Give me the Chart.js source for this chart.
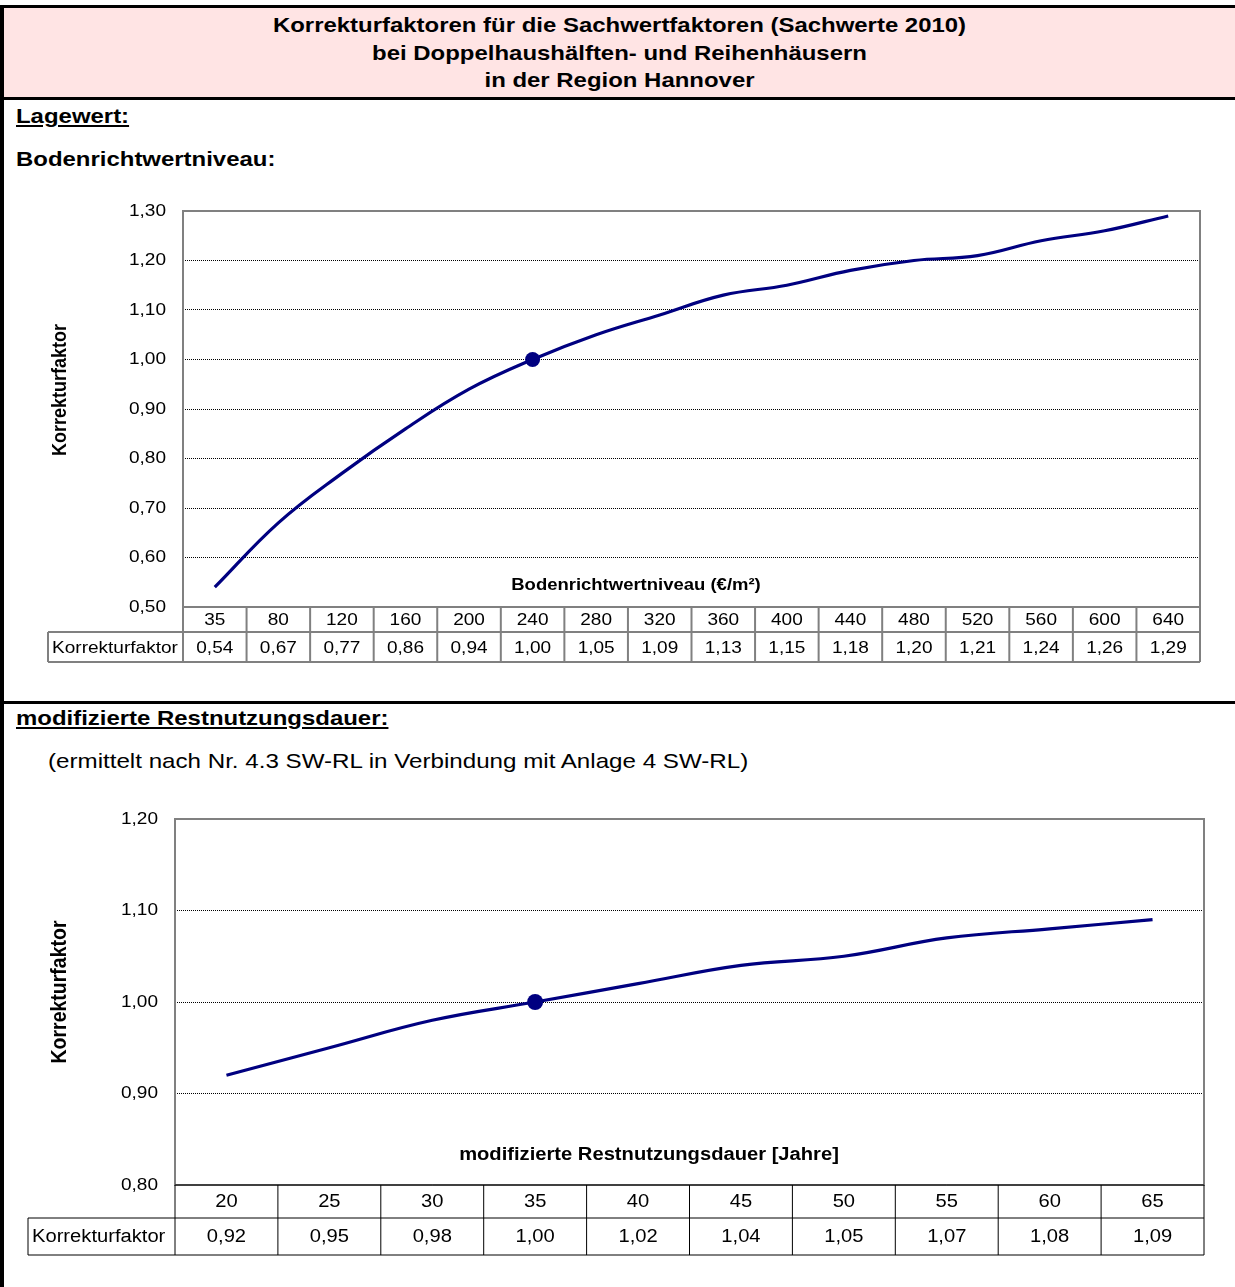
<!DOCTYPE html>
<html>
<head>
<meta charset="utf-8">
<script src="https://cdn.jsdelivr.net/npm/chart.js@4.4.1/dist/chart.umd.min.js"></script>
<style>
    body { margin: 0; width: 1235px; height: 1287px; overflow: hidden; background: #fff; font-family: "Liberation Sans", Arial, sans-serif; color: #000; position: relative; }
    .frame { position: absolute; left: 0; top: 5px; width: 1231px; height: 1282px; border-left: 4px solid #000; border-top: 3px solid #000; }
    .head { position: absolute; left: 4px; top: 8px; width: 1231px; height: 92px; background: #ffe4e4; border-bottom: 3px solid #000; padding-top: 3px; box-sizing: border-box; }
    .head div { text-align: center; font-weight: bold; font-size: 21px; line-height: 27.5px; transform: scaleX(1.14); transform-origin: 50% 0; }
    .sep { position: absolute; left: 4px; top: 701px; width: 1231px; height: 3px; background: #000; }
    .lbl { position: absolute; left: 16px; font-weight: bold; font-size: 21px; white-space: nowrap; transform: scaleX(1.14); transform-origin: 0 0; }
    .u { text-decoration: underline; text-decoration-thickness: 2px; text-underline-offset: 2px; }
    .note { position: absolute; left: 48px; font-size: 21px; white-space: nowrap; transform: scaleX(1.15); transform-origin: 0 0; }
    canvas { position: absolute; left: 0; }
</style>
</head>
<body>
<div class="frame"></div>
<div class="head"><div>Korrekturfaktoren für die Sachwertfaktoren (Sachwerte 2010)<br>bei Doppelhaushälften- und Reihenhäusern<br>in der Region Hannover</div></div>
<div class="lbl u" style="top:104px">Lagewert:</div>
<div class="lbl" style="top:147px">Bodenrichtwertniveau:</div>
<div class="sep"></div>
<div class="lbl u" style="top:706px">modifizierte Restnutzungsdauer:</div>
<div class="note" style="top:749px">(ermittelt nach Nr. 4.3 SW-RL in Verbindung mit Anlage 4 SW-RL)</div>
<canvas id="chart-boden" width="1235" height="500" style="top:181px"></canvas>
<canvas id="chart-rnd" width="1235" height="486" style="top:789px"></canvas>

<script>
// Bodenrichtwertniveau (€/m²)
const bodenLabels = [35, 80, 120, 160, 200, 240, 280, 320, 360, 400, 440, 480, 520, 560, 600, 640];
const bodenFaktor = [0.54, 0.67, 0.77, 0.86, 0.94, 1.00, 1.05, 1.09, 1.13, 1.15, 1.18, 1.20, 1.21, 1.24, 1.26, 1.29];
const bodenTicks = { min: 0.5, max: 1.3, step: 0.1 };

// modifizierte Restnutzungsdauer [Jahre]
const rndLabels = [20, 25, 30, 35, 40, 45, 50, 55, 60, 65];
const rndFaktor = [0.92, 0.95, 0.98, 1.00, 1.02, 1.04, 1.05, 1.07, 1.08, 1.09];
const rndTicks = { min: 0.8, max: 1.2, step: 0.1 };

const rowLabel = 'Korrekturfaktor';
const FONT = '"Liberation Sans", Arial, sans-serif';
const SX = 1.12; // the sheet's text is a bit wider than Arial
const fmt = v => v.toFixed(2).replace('.', ',');

function text(ctx, str, x, y, align) {
    ctx.save();
    ctx.translate(x, y);
    ctx.scale(SX, 1);
    ctx.textAlign = align;
    ctx.fillText(str, 0, 0);
    ctx.restore();
}

// draws frame, tick labels, axis titles and the data table under the plot
const sheetPlugin = {
    id: 'sheet',
    beforeDatasetsDraw(chart, args, o) {
        const { ctx, chartArea: a } = chart;
        ctx.save();
        ctx.strokeStyle = '#808080';
        ctx.lineWidth = 2;
        ctx.strokeRect(a.left, a.top, a.right - a.left, a.bottom - a.top);
        ctx.restore();
    },
    afterDraw(chart, args, o) {
        const { ctx, chartArea: a, scales: { x, y } } = chart;
        const labels = chart.data.labels;
        const values = chart.data.datasets[0].data;
        const half = (x.getPixelForValue(1) - x.getPixelForValue(0)) / 2;
        const r1 = a.bottom + o.row1;
        const r2 = r1 + o.row2;
        ctx.save();
        ctx.fillStyle = '#000';
        ctx.textBaseline = 'middle';

        // y tick labels
        ctx.font = o.tickSize + 'px ' + FONT;
        y.ticks.forEach(t => text(ctx, fmt(t.value), a.left - 17, y.getPixelForValue(t.value), 'right'));

        // axis titles
        ctx.font = 'bold ' + o.titleSize + 'px ' + FONT;
        text(ctx, o.xTitle, a.left + o.xTitleDx, a.bottom - o.xTitleDy, 'center');
        ctx.save();
        ctx.translate(o.yTitleX, (a.top + a.bottom) / 2 + o.yTitleDy);
        ctx.rotate(-Math.PI / 2);
        ctx.scale(1, SX);
        ctx.font = 'bold ' + o.yTitleSize + 'px ' + FONT;
        ctx.textAlign = 'center';
        ctx.fillText(o.yTitle, 0, 0);
        ctx.restore();

        // table grid
        ctx.strokeStyle = o.gridColor;
        ctx.lineWidth = o.gridWidth;
        ctx.beginPath();
        ctx.moveTo(a.left, a.bottom); ctx.lineTo(a.right, a.bottom);
        ctx.moveTo(o.tableLeft, r1); ctx.lineTo(a.right, r1);
        ctx.moveTo(o.tableLeft, r2); ctx.lineTo(a.right, r2);
        ctx.moveTo(o.tableLeft, r1); ctx.lineTo(o.tableLeft, r2);
        labels.forEach((l, i) => {
            const cx = x.getPixelForValue(i);
            ctx.moveTo(cx - half, a.bottom); ctx.lineTo(cx - half, r2);
        });
        ctx.moveTo(a.right, a.bottom); ctx.lineTo(a.right, r2);
        ctx.stroke();

        // table text
        ctx.font = o.cellSize + 'px ' + FONT;
        labels.forEach((l, i) => {
            const cx = x.getPixelForValue(i);
            text(ctx, String(l), cx, (a.bottom + r1) / 2 + 1, 'center');
            text(ctx, fmt(values[i]), cx, (r1 + r2) / 2 + 1, 'center');
        });
        text(ctx, rowLabel, o.tableLeft + 4, (r1 + r2) / 2 + 1, 'left');
        ctx.restore();
    }
};

function makeChart(id, labels, values, ticks, area, sheet) {
    const ctx = document.getElementById(id).getContext('2d');
    return new Chart(ctx, {
        type: 'line',
        data: {
            labels: labels,
            datasets: [{
                label: rowLabel,
                data: values,
                borderColor: '#000080',
                backgroundColor: '#000080',
                borderWidth: 3.2,
                tension: 0.4,
                fill: false,
                pointRadius: c => values[c.dataIndex] === 1 ? sheet.dot : 0,
                pointBorderWidth: 0,
                pointBackgroundColor: '#000080'
            }]
        },
        options: {
            responsive: false,
            animation: false,
            layout: { padding: { left: 0, right: area.right, top: area.top, bottom: area.bottom } },
            plugins: {
                legend: { display: false },
                tooltip: { enabled: false },
                sheet: sheet
            },
            scales: {
                x: {
                    display: false,
                    offset: true
                },
                y: {
                    min: ticks.min,
                    max: ticks.max,
                    afterFit: s => { s.width = area.left; },
                    ticks: { stepSize: ticks.step, display: false },
                    grid: { color: '#000', lineWidth: 1, drawTicks: false },
                    border: { display: false, dash: [1, 1] }
                }
            }
        },
        plugins: [sheetPlugin]
    });
}

makeChart('chart-boden', bodenLabels, bodenFaktor, bodenTicks,
    { left: 183, right: 35, top: 30, bottom: 74 },
    { row1: 25, row2: 30, tableLeft: 48, gridColor: '#808080', gridWidth: 2, cellSize: 17, tickSize: 17,
      titleSize: 16.5, xTitle: 'Bodenrichtwertniveau (€/m²)', xTitleDx: 453, xTitleDy: 22,
      yTitle: 'Korrekturfaktor', yTitleSize: 18, yTitleX: 60, yTitleDy: -19, dot: 7.5 });

makeChart('chart-rnd', rndLabels, rndFaktor, rndTicks,
    { left: 175, right: 31, top: 30, bottom: 90 },
    { row1: 33, row2: 37, tableLeft: 28, gridColor: '#000', gridWidth: 1, cellSize: 18, tickSize: 17,
      titleSize: 18, xTitle: 'modifizierte Restnutzungsdauer [Jahre]', xTitleDx: 474, xTitleDy: 30,
      yTitle: 'Korrekturfaktor', yTitleSize: 19.5, yTitleX: 60, yTitleDy: -10, dot: 8 });
</script>
</body>
</html>
